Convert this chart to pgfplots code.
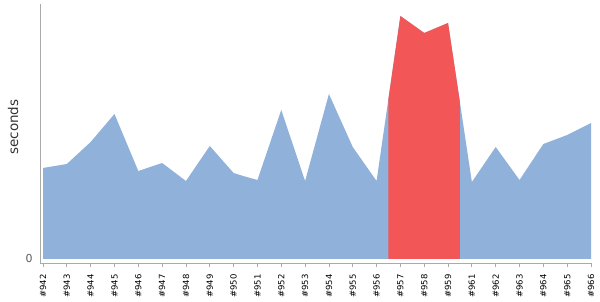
\documentclass[border=0pt]{standalone}
\usepackage{fontspec}
\setmainfont{DejaVu Sans}
\usepackage{pgfplots}
\pgfplotsset{compat=1.18}
\usepgfplotslibrary{fillbetween}
\definecolor{areablue}{HTML}{8FB1DA}
\definecolor{areared}{HTML}{F25656}
\definecolor{axgray}{HTML}{AAAAAA}
\begin{document}
\begin{tikzpicture}
\begin{axis}[
  at={(40bp,37bp)}, anchor=south west,
  scale only axis, width=551bp, height=259bp,
  xmin=-0.126, xmax=23, ymin=-4, ymax=255,
  axis x line*=bottom, axis y line*=left,
  axis line style={draw=axgray, line width=0.8pt},
  xtick={0,...,23},
  xticklabels={\#942,\#943,\#944,\#945,\#946,\#947,\#948,\#949,\#950,\#951,\#952,\#953,\#954,\#955,\#956,\#957,\#958,\#959,\#961,\#962,\#963,\#964,\#965,\#966},
  x tick label style={rotate=90, anchor=east, font=\fontsize{8.5}{9}\selectfont, text=black},
  xticklabel shift={4bp},
  tick align=outside,
  x tick style={draw=axgray, line width=0.8pt},
  major tick length=4bp,
  ytick={0},
  y tick style={draw=none},
  y tick label style={font=\fontsize{11}{12}\selectfont, text=black!65},
  /pgf/number format/assume math mode=true,
  ylabel={seconds},
  ylabel style={font=\fontsize{13.5}{14}\selectfont, text=black!80, anchor=center, at={(axis description cs:-0.049,0.525)}},
]
\addplot[draw=none, name path=top] coordinates {
(0,91) (1,95) (2,117) (3,145) (4,88) (5,96) (6,78) (7,113) (8,86) (8.4,83) (9,79)
(10,149) (11,78) (12,165) (13,112) (14,78) (15,243) (16,226) (17,236) (18,77)
(19,112) (20,79) (21,115) (22,124) (23,136)};
\addplot[draw=none, name path=base] coordinates {(0,0) (23,0)};
\addplot[fill=areablue, draw=none] fill between[of=top and base];
\addplot[fill=areared, draw=none] fill between[of=top and base, soft clip={domain=14.5:17.5}];
\end{axis}
\path[use as bounding box] (0,0) rectangle (600bp,300bp);
\end{tikzpicture}
\end{document}
